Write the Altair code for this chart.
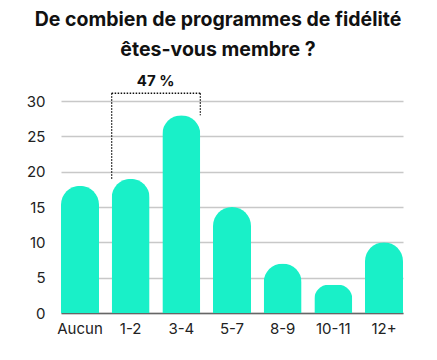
import altair as alt
import pandas as pd

categories = ["Aucun", "1-2", "3-4", "5-7", "8-9", "10-11", "12+"]
values = [18, 19, 28, 15, 7, 4, 10]
y_ticks = [0, 5, 10, 15, 20, 25, 30]

bracket_start = "1-2"
bracket_end = "3-4"
bracket_top = 31.1
bracket_left_bottom = 19
bracket_right_bottom = 28
bracket_label = "47 %"

title_lines = ["De combien de programmes de fidélité", "êtes-vous membre ?"]

FONT = "Inter"
TEAL = "#19F0C8"

df = pd.DataFrame({"cat": categories, "val": values})
xscale = alt.Scale(domain=categories, paddingInner=0.25, paddingOuter=0)
yscale = alt.Scale(domain=[0, 30], nice=False)

bars = alt.Chart(df).mark_bar(
    color=TEAL, cornerRadiusTopLeft=19, cornerRadiusTopRight=19, clip=False
).encode(
    x=alt.X("cat:N", scale=xscale, sort=categories, title=None,
            axis=alt.Axis(labelAngle=0, labelFontSize=15, labelColor="#222",
                          labelFont=FONT, ticks=False, labelPadding=8,
                          domainColor="#666", domainWidth=1.5)),
    y=alt.Y("val:Q", scale=yscale, title=None,
            axis=alt.Axis(values=y_ticks, tickCount=7, labelOverlap=False,
                          labelFontSize=15, labelColor="#222", labelFont=FONT,
                          ticks=False, domain=False, labelPadding=16,
                          gridColor="#c8c8c8", gridWidth=1.5)),
)

bdf = pd.DataFrame({
    "s": [bracket_start], "e": [bracket_end], "top": [bracket_top],
    "lb": [bracket_left_bottom], "rb": [bracket_right_bottom], "lab": [bracket_label],
})

dash = [1.5, 1.5]
left = alt.Chart(bdf).mark_rule(color="#111", strokeDash=dash, strokeWidth=1.3).encode(
    x=alt.X("s:N", scale=xscale, bandPosition=0), y="lb:Q", y2="top:Q")
right = alt.Chart(bdf).mark_rule(color="#111", strokeDash=dash, strokeWidth=1.3).encode(
    x=alt.X("e:N", scale=xscale, bandPosition=1), y="top:Q", y2="rb:Q")
topl = alt.Chart(bdf).mark_rule(color="#111", strokeDash=dash, strokeWidth=1.3).encode(
    x=alt.X("s:N", scale=xscale, bandPosition=0), x2=alt.X2("e:N", bandPosition=1),
    y="top:Q")
label = alt.Chart(bdf).mark_text(
    font=FONT, fontSize=15, fontWeight="bold", color="#111", baseline="bottom", dy=-4, dx=6
).encode(x=alt.X("s:N", scale=xscale, bandPosition=1), y="top:Q", text="lab:N")

chart = alt.layer(bars, left, right, topl, label).properties(
    width=342, height=212,
    autosize=alt.AutoSizeParams(type="none"),
    padding={"left": 53, "top": 93, "right": 26, "bottom": 39},
    title=alt.Title(title_lines, font=FONT, fontSize=19.5, fontWeight="bold",
                    color="#111", lineHeight=30, anchor="middle", dx=-14, offset=14),
).configure_view(stroke=None)

chart.save("out.html", embed_options={"renderer": "svg", "actions": False})
